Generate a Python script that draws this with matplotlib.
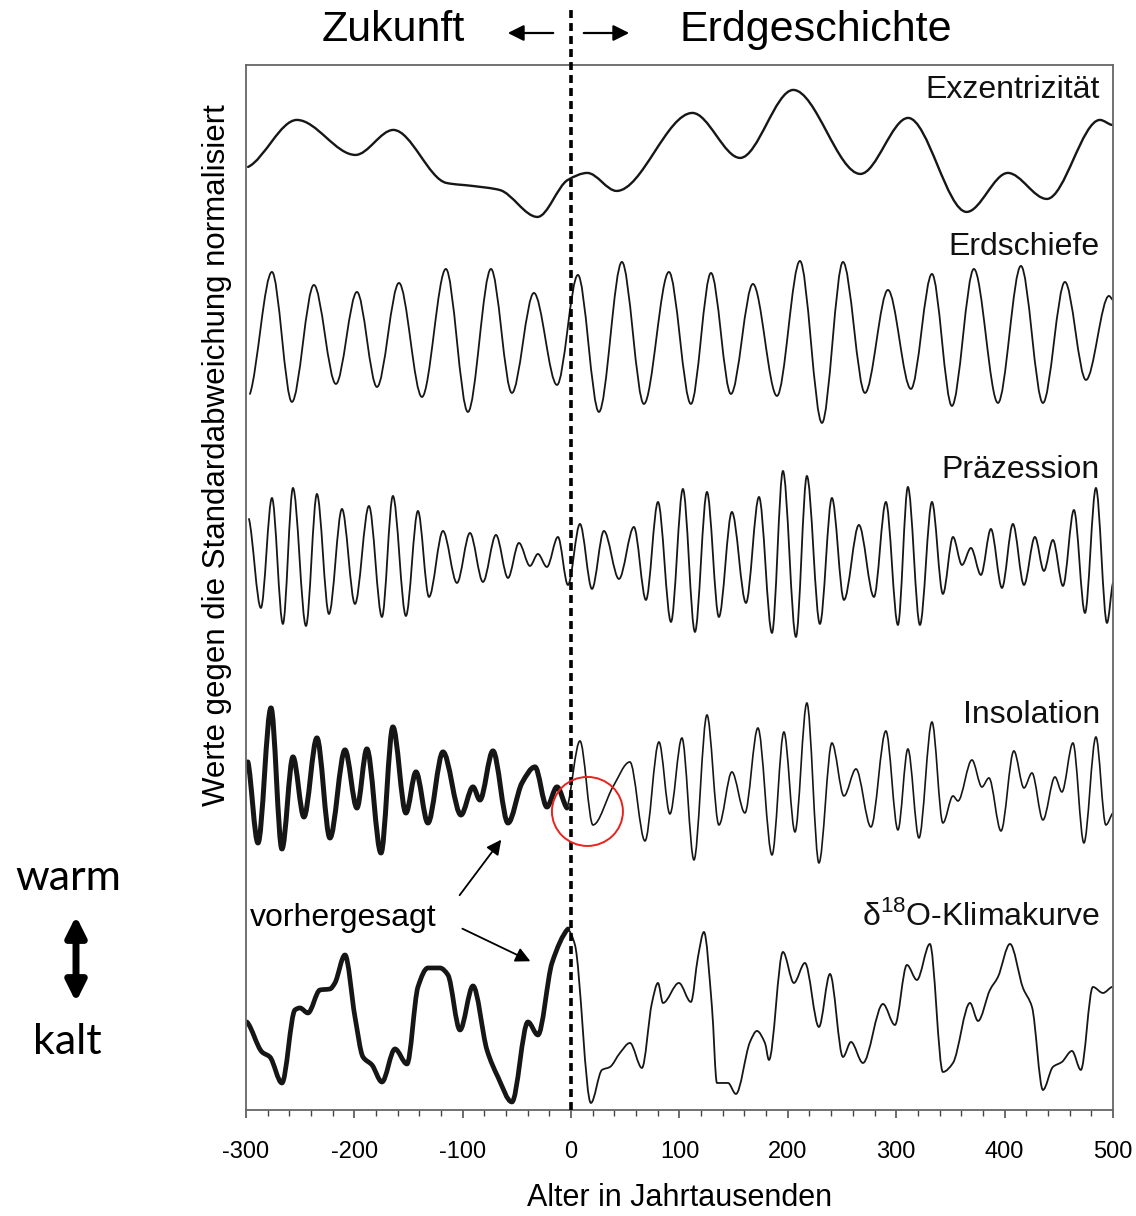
import numpy as np
import matplotlib.pyplot as plt
from matplotlib.path import Path
from matplotlib.patches import PathPatch, Ellipse

plt.rcParams['font.family'] = ['Liberation Sans', 'DejaVu Sans']
plt.rcParams['mathtext.fontset'] = 'custom'
plt.rcParams['mathtext.rm'] = 'Liberation Sans'

# ages in kyr (negative = future), values in standard deviations
ecc_age = [-298, -253, -199, -164, -115, -91, -66, -31, -3, 15, 42, 112, 156, 205,
           267, 311, 365, 403, 439, 488, 499]
ecc_val = [-0.48, 1.4, 0.0, 1.0, -1.12, -1.24, -1.4, -2.48, -1.0, -0.72, -1.44, 1.68,
           -0.12, 2.6, -0.76, 1.48, -2.28, -0.72, -1.76, 1.4, 1.2]

obl_age = [-296.3, -276, -257.6, -237.3, -217, -197.6, -179.1, -158.8, -137.6, -115.5,
           -95.2, -73.9, -54.6, -34.3, -13, 6.3, 25.7, 46.9, 67.2, 90.3, 110.6, 129.1,
           147.5, 167.8, 190, 211.2, 231.5, 250.9, 271.2, 292.4, 313.6, 333, 351.4,
           371.7, 393.9, 415.1, 435.4, 455.7, 475.1, 496.3, 500]
obl_val = [-2.16, 2.72, -2.48, 2.2, -1.76, 1.92, -1.88, 2.28, -2.28, 2.84, -2.88, 2.84,
           -2.12, 1.88, -1.8, 2.6, -2.88, 3.12, -2.56, 2.72, -2.56, 2.68, -2.16, 2.24,
           -2.24, 3.16, -3.32, 3.12, -2.12, 2.0, -1.96, 2.64, -2.64, 2.84, -2.52, 2.96,
           -2.52, 2.32, -1.6, 1.76, 1.6]

prec_age = [-297.2, -286.2, -276, -265.9, -256.6, -244.6, -234.5, -223.4, -211.4, -199.4,
            -186.5, -174.5, -164.4, -152.4, -141.3, -131.1, -118.2, -105.3, -93.3, -81.3,
            -69.3, -58.2, -48.1, -37.9, -30.6, -22.3, -12.1, -2.9, 8.2, 19.3, 30.3, 44.2,
            58, 69.1, 80.2, 92.2, 103.2, 114.3, 125.4, 136.4, 148.4, 161.4, 173.4, 185.4,
            195.5, 207.5, 217.6, 229.6, 240.7, 251.8, 265.6, 279.5, 290.5, 301.6, 310.8,
            321.9, 333, 343.1, 352.4, 360.7, 369, 378.2, 387.4, 397.6, 407.7, 417.9, 428,
            436.3, 444.6, 453.9, 464, 474.2, 484.3, 494.5, 500]
prec_val = [1.48, -2.08, 2.32, -2.72, 2.72, -2.8, 2.48, -2.32, 1.88, -1.92,
            2.0, -2.44, 2.4, -2.4, 1.8, -1.64, 1.0, -1.08, 0.92, -1.04,
            0.84, -0.88, 0.52, -0.4, 0.08, -0.44, 0.76, -1.16, 1.28, -1.32, 1.0, -0.92,
            1.16, -1.76, 2.16, -2.64, 2.68, -3.04, 2.56, -2.44, 1.76, -1.88, 2.36, -3.08,
            3.4, -3.24, 3.2, -2.72, 2.32, -1.76, 1.24, -1.64, 2.16, -2.76, 2.76,
            -2.76, 2.16, -1.52, 0.76, -0.36, 0.32, -0.76, 1.08, -1.28, 1.28, -1.16, 0.76,
            -0.6, 0.64, -1.2, 1.84, -2.28, 2.72, -2.68, -1.08]

# insolation: predicted (future, thick) and computed (past, thin)
ins_fut_age = [-298.2, -288.9, -276.9, -266.8, -256.6, -246.5, -234.5, -222.5, -208.6,
               -197.6, -188.4, -175.4, -164.4, -152.4, -143.1, -132.1, -118.2, -101.6,
               -90.5, -84.1, -72.1, -58.2, -45.3, -33.3, -22.3, -13, -3.8]
ins_fut_val = [0.84, -2.4, 3.0, -2.64, 1.04, -1.36, 1.8, -2.2, 1.32,
               -1.0, 1.36, -2.8, 2.24, -1.2, 0.44, -1.6, 1.24, -1.28,
               -0.16, -0.68, 1.28, -1.6, 0.0, 0.64, -0.96, -0.16, -1.0]
ins_past_age = [-3.8, 8.2, 20.2, 38.6, 54.3, 68.2, 81.1, 91.2, 102.3, 113.4, 125.4, 136.4,
                148.4, 160.4, 172.4, 185.4, 196.4, 206.6, 217.6, 228.7, 240.7, 251.8,
                262.9, 276.7, 290.5, 301.6, 310.8, 321, 333, 343.1, 352.4, 357, 369.9,
                379.1, 385.6, 396.7, 408.6, 417.9, 425.3, 435.4, 446.5, 452.9, 463.1,
                473.2, 484.3, 493.5, 500]
ins_past_val = [-1.0, 1.68, -1.68, -0.16, 0.84, -2.32, 1.64, -1.24, 1.8, -3.08, 2.72, -1.68,
                0.44, -1.2, 2.2, -2.88, 2.04, -1.96, 3.2, -3.2, 1.6, -0.52,
                0.56, -1.76, 2.08, -1.88, 1.36, -2.2, 2.44, -1.6, -0.52, -0.72, 0.92,
                -0.16, 0.2, -1.92, 1.28, -0.2, 0.4, -1.48, 0.24, -0.36, 1.6,
                -2.4, 1.84, -1.68, -1.2]

# delta-18O climate curve: predicted (future) and measured (past)
d18o_fut_age = [-299.1, -285.2, -277.9, -266.8, -254.8, -250.2, -242.8, -231.7, -222.5,
                -217.9, -208.6, -199.4, -192, -183.7, -174.5, -162.5, -151.4, -141.3,
                -132.1, -121, -113.6, -102.5, -90.5, -77.6, -67.5, -54.6, -39.8, -30.6,
                -17.6, -2.9]
d18o_fut_val = [-0.24, -1.44, -1.64, -2.68, 0.24, 0.32, 0.12, 1.04, 1.08,
                1.32, 2.44, -0.04, -1.64, -1.96, -2.64, -1.32, -1.92, 1.16,
                1.92, 1.92, 1.64, -0.56, 1.2, -1.36, -2.44, -3.44, -0.24, -0.76,
                2.12, 3.48]
d18o_past_age = [-2.9, 3.6, 18.3, 28.5, 35.9, 45.1, 54.3, 65.4, 74.6, 80.2, 84.8, 99.5,
                 110.6, 117.1, 122.6, 130, 134.6, 144.8, 152.1, 165.1, 171.5, 178.9, 182.6,
                 195.5, 205.6, 215.8, 228.7, 238.9, 250.9, 258.3, 269.3, 287.8, 298.8,
                 309.9, 319.1, 331.1, 343.1, 352.4, 368.1, 375.5, 386.5, 393.9, 405, 417,
                 425.3, 435.4, 444.6, 452.9, 462.2, 470.4, 481.5, 490.8, 499.1]
d18o_past_val = [3.48, 2.84, -3.48, -2.16, -2.04, -1.48, -1.08, -2.08, 0.52, 1.32, 0.52, 1.32,
                 0.56, 2.36, 3.36, 0.36, -2.68, -2.68, -3.12, -1.04, -0.6, -1.08, -1.76,
                 2.56, 1.32, 2.12, -0.44, 1.68, -1.64, -1.04, -1.88, 0.48, -0.36,
                 2.04, 1.44, 2.88, -2.24, -1.88, 0.52, -0.2, 1.04, 1.56, 2.88, 1.12,
                 0.36, -2.96, -2.04, -1.84, -1.4, -2.16, 1.16, 0.92, 1.16]

curve_names = ['Exzentrizität', 'Erdschiefe', 'Präzession', 'Insolation',
               'δ$^{18}$O-Klimakurve']
xticks = [-300, -200, -100, 0, 100, 200, 300, 400, 500]


def smooth_path(xs, ys, offset):
    # piecewise cubic (monotone tangents) drawn as bezier segments
    xs = np.asarray(xs, float)
    ys = np.asarray(ys, float) + offset
    d = np.diff(ys) / np.diff(xs)
    m = np.zeros_like(ys)
    for i in range(1, len(ys) - 1):
        if d[i - 1] * d[i] > 0:
            m[i] = 2.0 / (1.0 / d[i - 1] + 1.0 / d[i])
    m[0] = 0.5 * d[0]
    m[-1] = 0.5 * d[-1]
    verts = [(xs[0], ys[0])]
    codes = [Path.MOVETO]
    for i in range(len(xs) - 1):
        h = (xs[i + 1] - xs[i]) / 3.0
        verts += [(xs[i] + h, ys[i] + m[i] * h),
                  (xs[i + 1] - h, ys[i + 1] - m[i + 1] * h),
                  (xs[i + 1], ys[i + 1])]
        codes += [Path.CURVE4] * 3
    return Path(verts, codes)


def draw(ax, xs, ys, offset, lw):
    ax.add_patch(PathPatch(smooth_path(xs, ys, offset), fill=False,
                           edgecolor='#161616', lw=lw, capstyle='round',
                           joinstyle='round'))


fig = plt.figure(figsize=(11.36, 12.16), dpi=100)
ax = fig.add_axes([0.2165, 0.0872, 0.7632, 0.8594])
ax.set_xlim(-300, 500)
ax.set_ylim(0, 41.8)

offsets = [38.2, 30.8, 22.16, 13.08, 3.76]

draw(ax, ecc_age, ecc_val, offsets[0], 1.7)
draw(ax, obl_age, obl_val, offsets[1], 1.3)
draw(ax, prec_age, prec_val, offsets[2], 1.3)
draw(ax, ins_past_age, ins_past_val, offsets[3], 1.2)
draw(ax, ins_fut_age, ins_fut_val, offsets[3], 3.6)
draw(ax, d18o_past_age, d18o_past_val, offsets[4], 1.3)
draw(ax, d18o_fut_age, d18o_fut_val, offsets[4], 3.4)

# curve names, right aligned inside the frame
label_y = [40.8, 34.5, 25.6, 15.8, 7.75]
for name, yy in zip(curve_names, label_y):
    ax.text(488, yy, name, fontsize=23, ha='right', va='center', color='#111111')

# present day
ax.plot([0, 0], [0, 44.0], color='black', lw=2.6, ls=(0, (2.2, 1.4)),
        clip_on=False, zorder=5)

ax.add_patch(Ellipse((15.1, 11.94), 65.5, 2.76, fill=False, edgecolor='#e8231f', lw=1.4,
                     zorder=6))

ax.text(-296, 7.68, 'vorhergesagt', fontsize=23, ha='left', va='center')
ax.annotate('', xy=(-62.9, 10.9), xytext=(-104.4, 8.5),
            arrowprops=dict(arrowstyle='-|>', lw=1.3, color='black', mutation_scale=22))
ax.annotate('', xy=(-35.2, 5.9), xytext=(-102.6, 7.3),
            arrowprops=dict(arrowstyle='-|>', lw=1.3, color='black', mutation_scale=22))

for s in ax.spines.values():
    s.set_color('#666666')
    s.set_linewidth(1.3)
ax.set_yticks([])
ax.set_xticks(xticks)
ax.set_xticks(np.arange(-300, 501, 20), minor=True)
ax.tick_params(axis='x', which='major', direction='out', length=6, width=1.1,
               color='#444444', pad=16)
ax.tick_params(axis='x', which='minor', direction='out', length=4, width=1.0,
               color='#444444')
ax.set_xticklabels([str(t) for t in xticks], fontsize=17)
ax.set_xlabel('Alter in Jahrtausenden', fontsize=22, labelpad=15)

fig.text(217 / 1136, 1 - 455 / 1216, 'Werte gegen die Standardabweichung normalisiert',
         rotation=90, fontsize=22.5, ha='center', va='center')

# header
fig.text(393 / 1136, 1 - 30 / 1216, 'Zukunft', fontsize=31, ha='center', va='center')
fig.text(816 / 1136, 1 - 30 / 1216, 'Erdgeschichte', fontsize=31, ha='center', va='center')
ax.annotate('', xy=(505 / 1136, 1 - 33 / 1216), xytext=(556 / 1136, 1 - 33 / 1216),
            xycoords='figure fraction', textcoords='figure fraction',
            arrowprops=dict(arrowstyle='-|>', lw=1.6, color='black', mutation_scale=24))
ax.annotate('', xy=(632 / 1136, 1 - 33 / 1216), xytext=(581 / 1136, 1 - 33 / 1216),
            xycoords='figure fraction', textcoords='figure fraction',
            arrowprops=dict(arrowstyle='-|>', lw=1.6, color='black', mutation_scale=24))

# warm / kalt side note
fig.text(68 / 1136, 1 - 878 / 1216, 'warm', fontsize=31, ha='center', va='center',
         family=['Lato', 'DejaVu Sans'])
fig.text(67 / 1136, 1 - 1042 / 1216, 'kalt', fontsize=31, ha='center', va='center',
         family=['Lato', 'DejaVu Sans'])
ax.annotate('', xy=(76 / 1136, 1 - 916 / 1216), xytext=(76 / 1136, 1 - 1002 / 1216),
            xycoords='figure fraction', textcoords='figure fraction',
            arrowprops=dict(arrowstyle='<|-|>', lw=5, color='black', mutation_scale=30,
                            shrinkA=0, shrinkB=0))

fig.savefig('out.png', dpi=100)
